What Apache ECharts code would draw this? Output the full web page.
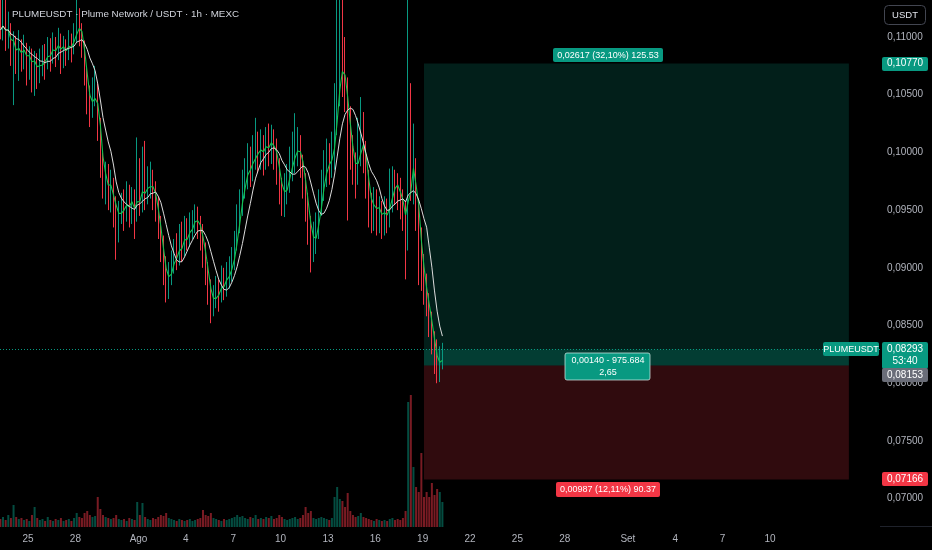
<!DOCTYPE html>
<html><head><meta charset="utf-8">
<script src="https://cdn.jsdelivr.net/npm/echarts@6/dist/echarts.min.js"></script>
<style>html,body{margin:0;padding:0;background:#000;}#c{width:932px;height:550px;}</style>
</head><body><div id="c"></div>
<script>
// ---------- data ----------
const chartTitle = 'PLUMEUSDT · Plume Network / USDT · 1h · MEXC';
const symbolName = 'PLUMEUSDT';
const quoteName = 'USDT';
const firstCandleUTC = [2025, 6, 23, 6];   // 23 Jul, 06:00
const candleHours = 4;
// [open, close, low, high]
const candles = [
[0.11100,0.11061,0.1098,0.1135],[0.11061,0.11130,0.1097,0.1136],[0.11130,0.10991,0.1088,0.1134],[0.10991,0.11061,0.1090,0.1122],[0.11061,0.10887,0.1075,0.1112],
[0.10887,0.10957,0.1041,0.1105],[0.10957,0.10818,0.1068,0.1101],[0.10818,0.10931,0.1062,0.1106],[0.10931,0.10844,0.1070,0.1098],[0.10844,0.10887,0.1072,0.1102],
[0.10887,0.10783,0.1058,0.1095],[0.10783,0.10844,0.1063,0.1092],[0.10844,0.10731,0.1052,0.1090],[0.10731,0.10801,0.1049,0.1088],[0.10801,0.10697,0.1055,0.1086],
[0.10697,0.10757,0.1060,0.1090],[0.10757,0.10818,0.1066,0.1093],[0.10818,0.10783,0.1063,0.1094],[0.10783,0.10887,0.1072,0.1100],[0.10887,0.10844,0.1070,0.1099],
[0.10844,0.10931,0.1077,0.1104],[0.10931,0.10870,0.1074,0.1100],[0.10870,0.10974,0.1080,0.1108],[0.10974,0.10844,0.1068,0.1103],[0.10844,0.10931,0.1073,0.1101],
[0.10931,0.10870,0.1075,0.1098],[0.10870,0.10957,0.1080,0.1106],[0.10957,0.10905,0.1078,0.1103],[0.10905,0.11017,0.1085,0.1112],[0.11017,0.11147,0.1095,0.1136],
[0.11147,0.11061,0.1092,0.1125],[0.11061,0.10931,0.1082,0.1112],[0.10931,0.10671,0.1058,0.1097],[0.10671,0.10454,0.1033,0.1075],[0.10454,0.10367,0.1022,0.1058],
[0.10367,0.10497,0.1030,0.1065],[0.10497,0.10541,0.1040,0.1075],[0.10541,0.10237,0.1010,0.1060],[0.10237,0.09934,0.0978,0.1030],[0.09934,0.09717,0.0960,0.1000],
[0.09717,0.09804,0.0955,0.0992],[0.09804,0.09631,0.0950,0.0990],[0.09631,0.09717,0.0948,0.0985],[0.09717,0.09544,0.0935,0.0978],[0.09544,0.09371,0.0907,0.0962],
[0.09371,0.09501,0.0922,0.0958],[0.09501,0.09544,0.0938,0.0965],[0.09544,0.09457,0.0932,0.0968],[0.09457,0.09631,0.0940,0.0975],[0.09631,0.09501,0.0935,0.0972],
[0.09501,0.09588,0.0938,0.0970],[0.09588,0.09457,0.0925,0.0968],[0.09457,0.09674,0.0940,0.1013],[0.09674,0.09588,0.0945,0.0995],[0.09588,0.09717,0.0948,0.1005],
[0.09717,0.09631,0.0950,0.1010],[0.09631,0.09717,0.0955,0.0988],[0.09717,0.09761,0.0960,0.0992],[0.09761,0.09631,0.0950,0.0985],[0.09631,0.09544,0.0940,0.0975],
[0.09544,0.09371,0.0925,0.0962],[0.09371,0.09154,0.0905,0.0945],[0.09154,0.08981,0.0885,0.0928],[0.08981,0.08851,0.0870,0.0910],[0.08851,0.08937,0.0873,0.0905],
[0.08937,0.09050,0.0885,0.0915],[0.09050,0.09111,0.0895,0.0925],[0.09111,0.09085,0.0898,0.0930],[0.09085,0.09241,0.0902,0.0938],[0.09241,0.09171,0.0905,0.0940],
[0.09171,0.09310,0.0910,0.0945],[0.09310,0.09258,0.0915,0.0943],[0.09258,0.09345,0.0918,0.0948],[0.09345,0.09397,0.0925,0.0950],[0.09397,0.09457,0.0930,0.0955],
[0.09457,0.09371,0.0925,0.0953],[0.09371,0.09284,0.0915,0.0945],[0.09284,0.09154,0.0900,0.0938],[0.09154,0.08981,0.0885,0.0922],[0.08981,0.08808,0.0868,0.0905],
[0.08808,0.08677,0.0852,0.0890],[0.08677,0.08721,0.0858,0.0885],[0.08721,0.08808,0.0865,0.0893],[0.08808,0.08764,0.0862,0.0890],[0.08764,0.08894,0.0870,0.0902],
[0.08894,0.08851,0.0872,0.0900],[0.08851,0.08937,0.0875,0.0905],[0.08937,0.08981,0.0882,0.0910],[0.08981,0.09050,0.0888,0.0918],[0.09050,0.09197,0.0898,0.0932],
[0.09197,0.09414,0.0915,0.0955],[0.09414,0.09544,0.0930,0.0968],[0.09544,0.09717,0.0945,0.0985],[0.09717,0.09804,0.0960,0.0995],[0.09804,0.09891,0.0968,0.1008],
[0.09891,0.09847,0.0970,0.1005],[0.09847,0.09977,0.0975,0.1015],[0.09977,0.10021,0.0985,0.1030],[0.10021,0.09977,0.0982,0.1018],[0.09977,0.10064,0.0985,0.1020],
[0.10064,0.09977,0.0980,0.1015],[0.09977,0.10107,0.0985,0.1022],[0.10107,0.10038,0.0988,0.1025],[0.10038,0.10107,0.0990,0.1024],[0.10107,0.10021,0.0985,0.1020],
[0.10021,0.09891,0.0972,0.1012],[0.09891,0.09717,0.0955,0.0995],[0.09717,0.09588,0.0945,0.0978],[0.09588,0.09674,0.0944,0.0982],[0.09674,0.09761,0.0955,0.0990],
[0.09761,0.09891,0.0965,0.1005],[0.09891,0.09951,0.0975,0.1018],[0.09951,0.10021,0.0982,0.1034],[0.10021,0.10064,0.0988,0.1022],[0.10064,0.09934,0.0978,0.1015],
[0.09934,0.09761,0.0960,0.0998],[0.09761,0.09588,0.0940,0.0982],[0.09588,0.09371,0.0920,0.0965],[0.09371,0.09197,0.0896,0.0945],[0.09197,0.09241,0.0905,0.0940],
[0.09241,0.09328,0.0912,0.0948],[0.09328,0.09544,0.0925,0.0968],[0.09544,0.09674,0.0945,0.0985],[0.09674,0.09847,0.0958,0.1002],[0.09847,0.09934,0.0970,0.1012],
[0.09934,0.09891,0.0972,0.1008],[0.09891,0.09977,0.0978,0.1018],[0.09977,0.10237,0.0985,0.1060],[0.10237,0.10584,0.1015,0.1140],[0.10584,0.10801,0.1040,0.1138],
[0.10801,0.10714,0.1048,0.1140],[0.10714,0.10497,0.1035,0.1100],[0.10497,0.10237,0.0941,0.1065],[0.10237,0.10021,0.0985,0.1040],[0.10021,0.09891,0.0972,0.1015],
[0.09891,0.09804,0.0960,0.1000],[0.09804,0.10021,0.0972,0.1030],[0.10021,0.10151,0.0988,0.1048],[0.10151,0.10021,0.0982,0.1035],[0.10021,0.09761,0.0960,0.1010],
[0.09761,0.09544,0.0935,0.0985],[0.09544,0.09501,0.0930,0.0965],[0.09501,0.09588,0.0932,0.0970],[0.09588,0.09457,0.0928,0.0968],[0.09457,0.09518,0.0930,0.0962],
[0.09518,0.09414,0.0925,0.0958],[0.09414,0.09501,0.0928,0.0962],[0.09501,0.09457,0.0930,0.0960],[0.09457,0.09588,0.0935,0.0986],[0.09588,0.09761,0.0948,0.0988],
[0.09761,0.09717,0.0955,0.0985],[0.09717,0.09674,0.0950,0.0982],[0.09674,0.09588,0.0942,0.0978],[0.09588,0.09501,0.0932,0.0968],[0.09501,0.09284,0.0890,0.0958],
[0.09284,0.09934,0.0915,0.1140],[0.09934,0.09761,0.0958,0.1060],[0.09761,0.09891,0.0955,0.1025],[0.09891,0.09501,0.0932,0.0995],[0.09501,0.09241,0.0885,0.0960],
[0.09241,0.08981,0.0880,0.0935],[0.08981,0.08808,0.0868,0.0912],[0.08808,0.08700,0.0858,0.0895],[0.08700,0.08548,0.0840,0.0878],[0.08548,0.08374,0.0825,0.0862],
[0.08374,0.08244,0.0808,0.0845],[0.08244,0.08100,0.0800,0.0838],[0.08100,0.08201,0.0801,0.0832],[0.08201,0.08293,0.0812,0.0835]
];
const volumes = [
8,10,7,12,9,22,10,8,9,7, 8,6,12,20,9,7,8,6,10,7, 6,8,7,9,6,7,8,6,9,14,
10,9,14,16,12,10,11,30,18,12, 10,9,8,9,12,8,7,8,6,9, 8,7,25,12,24,10,8,7,9,8,
10,12,11,14,9,8,7,6,8,7, 6,7,8,6,7,8,9,17,12,11, 14,9,8,7,6,8,7,8,9,10,
12,10,11,9,8,10,9,12,8,9, 8,10,9,11,8,9,12,10,8,7, 8,9,10,8,9,12,20,14,16,9,
8,9,10,9,8,7,9,30,40,28, 26,20,34,16,12,10,11,14,10,9, 8,7,6,8,7,6,7,6,8,9,
7,8,7,9,16,125,132,60,40,35, 74,30,35,30,44,32,38,35,25
];
const xTickDates = [[2025,6,25],[2025,6,28],[2025,7,1],[2025,7,4],[2025,7,7],[2025,7,10],[2025,7,13],[2025,7,16],
                    [2025,7,19],[2025,7,22],[2025,7,25],[2025,7,28],[2025,8,1],[2025,8,4],[2025,8,7],[2025,8,10]];
const xTickLabels = ['25','28','Ago','4','7','10','13','16','19','22','25','28','Set','4','7','10'];
const yTicks = [0.070,0.075,0.080,0.085,0.090,0.095,0.100,0.105,0.110];
const entryPrice = 0.08153, targetPrice = 0.10770, stopPrice = 0.07166, lastPrice = 0.08293;
const countdown = '53:40';
const targetText = '0,02617 (32,10%) 125.53';
const middleText = '0,00140 - 975.684\n2,65';
const stopText = '0,00987 (12,11%) 90.37';
const maFastLen = 3, maSlowLen = 8;

// ---------- view window (layout) ----------
const H = 3600e3;
const day0 = Date.UTC(2025, 6, 23);
const xMin = day0 + 5.4 * H, xMax = day0 + 1343.3 * H;
const posStart = day0 + 650 * H, posEnd = day0 + 1296 * H, posLabelX = day0 + 929.8 * H;
const yMin = 0.06754, yMax = 0.11321;

const UP = '#089981', DOWN = '#f23645';
const t0 = Date.UTC(...firstCandleUTC);
const times = candles.map((_, i) => t0 + i * candleHours * H);
const closes = candles.map(c => c[1]);
function sma(arr, n) {
  return arr.map((_, i) => { const s = Math.max(0, i - n + 1); let sum = 0; for (let k = s; k <= i; k++) sum += arr[k]; return sum / (i - s + 1); });
}
const maFast = sma(closes, maFastLen), maSlow = sma(closes, maSlowLen);
const xTickTimes = xTickDates.map(d => Date.UTC(d[0], d[1], d[2]));
const fmtPrice = v => v.toFixed(5).replace('.', ',');
const FONT = '"Liberation Sans", Arial, sans-serif';

const chart = echarts.init(document.getElementById('c'), null, { renderer: 'canvas' });
const option = {
  backgroundColor: '#000',
  animation: false,
  title: { text: chartTitle, left: 7, top: 4, textStyle: { color: '#d1d4dc', fontSize: 9.8, fontWeight: 'normal', fontFamily: FONT } },
  grid: [{ left: 0, right: 52, top: 0, bottom: 23 }, { left: 0, right: 52, top: 380, bottom: 23 }],
  xAxis: [
    { type: 'value', gridIndex: 0, min: xMin, max: xMax, axisLine: { show: false }, axisTick: { show: false }, splitLine: { show: false },
      axisLabel: { customValues: xTickTimes, color: '#b2b5be', fontSize: 10, fontFamily: FONT, margin: 7,
        formatter: v => { let best = 0; xTickTimes.forEach((t, i) => { if (Math.abs(t - v) < Math.abs(xTickTimes[best] - v)) best = i; }); return xTickLabels[best]; } } },
    { type: 'value', gridIndex: 1, min: xMin, max: xMax, show: false }
  ],
  yAxis: [
    { type: 'value', gridIndex: 0, position: 'right', min: yMin, max: yMax, axisLine: { show: false }, axisTick: { show: false }, splitLine: { show: false },
      axisLabel: { customValues: yTicks, formatter: fmtPrice, color: '#b2b5be', fontSize: 10, fontFamily: FONT, margin: 25, align: 'center' } },
    { type: 'value', gridIndex: 1, min: 0, max: 147, show: false }
  ],
  series: [
    { type: 'line', name: 'position', xAxisIndex: 0, yAxisIndex: 0, data: [], z: 1, silent: true,
      markArea: { silent: true, label: { show: false }, data: [
        [{ xAxis: posStart, yAxis: targetPrice, itemStyle: { color: 'rgba(8,153,129,0.2)' } }, { xAxis: posEnd, yAxis: entryPrice }],
        [{ xAxis: posStart, yAxis: lastPrice, itemStyle: { color: 'rgba(8,153,129,0.25)' } }, { xAxis: posEnd, yAxis: entryPrice }],
        [{ xAxis: posStart, yAxis: entryPrice, itemStyle: { color: 'rgba(242,54,69,0.2)' } }, { xAxis: posEnd, yAxis: stopPrice }]
      ] },
      markLine: { silent: true, precision: 5, symbol: ['none', 'none'], label: { show: false }, animation: false,
        lineStyle: { color: UP, type: [1, 2], width: 1 }, data: [{ yAxis: lastPrice }] } },
    { type: 'bar', name: 'volume', xAxisIndex: 1, yAxisIndex: 1, barWidth: 2, z: 2, silent: true,
      data: volumes.map((v, i) => ({ value: [times[i], v], itemStyle: { color: candles[i][1] >= candles[i][0] ? 'rgba(8,153,129,0.5)' : 'rgba(242,54,69,0.5)' } })) },
    { type: 'candlestick', name: 'price', xAxisIndex: 0, yAxisIndex: 0, z: 3, barWidth: 1.2, silent: true,
      dimensions: ['time', 'open', 'close', 'lowest', 'highest'], encode: { x: 0, y: [1, 2, 3, 4] },
      data: candles.map((c, i) => [times[i], c[0], c[1], c[2], c[3]]),
      itemStyle: { color: UP, color0: DOWN, borderColor: UP, borderColor0: DOWN, borderWidth: 1 } },
    { type: 'line', name: 'MA fast', xAxisIndex: 0, yAxisIndex: 0, z: 5, showSymbol: false, silent: true,
      data: maFast.map((v, i) => [times[i], v]), lineStyle: { color: '#14c24f', width: 1.1 } },
    { type: 'line', name: 'MA slow', xAxisIndex: 0, yAxisIndex: 0, z: 5, showSymbol: false, silent: true,
      data: maSlow.map((v, i) => [times[i], v]), lineStyle: { color: '#dcdcdc', width: 1 } }
  ]
};
chart.setOption(option);

// ---------- annotations (positions from the axes) ----------
const px = (t, p) => chart.convertToPixel({ gridIndex: 0 }, [t, p]);
const ctx = document.createElement('canvas').getContext('2d');
function tw(text, size) { ctx.font = size + 'px ' + FONT; return Math.max(...text.split('\n').map(s => ctx.measureText(s).width)); }
const gridRight = chart.getWidth() - 52;
const g = [];
function tag(cx, cy, w, h, fill, text, size, extra) {
  g.push({ type: 'rect', z: 50, shape: { x: Math.round(cx - w / 2), y: Math.round(cy - h / 2), width: Math.round(w), height: Math.round(h), r: 2 },
    style: Object.assign({ fill: fill }, extra || {}) });
  g.push({ type: 'text', z: 51, style: { text: text, x: cx, y: cy, fill: '#fff', fontSize: size, fontFamily: FONT, align: 'center', verticalAlign: 'middle', lineHeight: 12 } });
}
const yT = px(xMin, targetPrice)[1], yE = px(xMin, entryPrice)[1], yS = px(xMin, stopPrice)[1], yL = px(xMin, lastPrice)[1];
const lx = px(posLabelX, entryPrice)[0];
tag(lx, yT - 8.5, tw(targetText, 9) + 8, 14, UP, targetText, 9);
tag(lx, yE + 0.5, tw(middleText, 9) + 12, 27, UP, middleText, 9, { stroke: 'rgba(220,240,235,0.7)', lineWidth: 1 });
tag(lx, yS + 10.5, tw(stopText, 9) + 8, 15, DOWN, stopText, 9);
// price scale tags
const ax = gridRight + 25;
tag(ax, yT, 46, 14, UP, fmtPrice(targetPrice), 10);
tag(ax, yS, 46, 14, DOWN, fmtPrice(stopPrice), 10);
tag(ax, yL + 6, 46, 27, UP, fmtPrice(lastPrice) + '\n' + countdown, 10);
tag(ax, yL + 26, 46, 14, '#6a6d78', fmtPrice(entryPrice), 10);
tag(gridRight - 29, yL, 56, 14, UP, symbolName, 9);
// currency button and pane border
g.push({ type: 'rect', z: 50, shape: { x: gridRight + 4.5, y: 5.5, width: 41, height: 19, r: 4 }, style: { fill: '#000', stroke: '#434651', lineWidth: 1 } });
g.push({ type: 'text', z: 51, style: { text: quoteName, x: gridRight + 25, y: 15, fill: '#e0e3eb', fontSize: 9.5, fontFamily: FONT, align: 'center', verticalAlign: 'middle' } });
g.push({ type: 'line', z: 50, shape: { x1: gridRight, y1: 526.5, x2: chart.getWidth(), y2: 526.5 }, style: { stroke: '#1f222b', lineWidth: 1 } });
chart.setOption({ graphic: g });
</script></body></html>
